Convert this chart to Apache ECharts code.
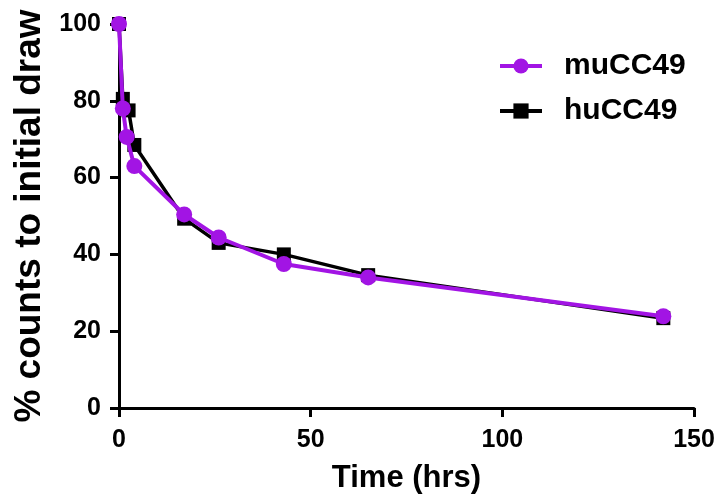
<!DOCTYPE html>
<html>
<head>
<meta charset="utf-8">
<script src="https://cdn.jsdelivr.net/npm/echarts@6/dist/echarts.min.js"></script>
<style>
  html, body { margin: 0; padding: 0; background: #fff; }
  #main { width: 723px; height: 502px; }
</style>
</head>
<body>
<div id="main"></div>
<script>
// time points (hrs) and % counts
var timeMu = [0, 1, 2, 4, 17, 26, 43, 65, 142];
var valMu  = [100, 78, 70.6, 63, 50.4, 44.4, 37.5, 34, 23.9];
var timeHu = [0, 1, 2.5, 4, 17, 26, 43, 65, 142];
var valHu  = [100, 80.5, 77.5, 68.5, 49.3, 43, 40, 34.6, 23.4];
var xTicks = [0, 50, 100, 150];
var yTicks = [0, 20, 40, 60, 80, 100];

var purple = '#a214e4';
var font = 'Liberation Sans, Arial, sans-serif';
var tickFont = { fontFamily: font, fontWeight: 'bold', fontSize: 25, color: '#000' };

function pairs(xs, ys) {
  var out = [];
  for (var i = 0; i < xs.length; i++) out.push([xs[i], ys[i]]);
  return out;
}

var chart = echarts.init(document.getElementById('main'));
chart.setOption({
  animation: false,
  backgroundColor: '#fff',
  grid: { left: 119, right: 29, top: 24, bottom: 94 },
  legend: {
    left: 493, top: 46, orient: 'vertical',
    itemWidth: 42, itemHeight: 19, itemGap: 15,
    lineStyle: { width: 4 },
    textStyle: { fontFamily: font, fontWeight: 'bold', fontSize: 30, color: '#000', padding: [0, 0, 0, 17] },
    data: ['muCC49', 'huCC49']
  },
  xAxis: {
    type: 'value', min: 0, max: 150, interval: 50,
    name: 'Time (hrs)', nameLocation: 'middle', nameGap: 55,
    nameTextStyle: { fontFamily: font, fontWeight: 'bold', fontSize: 31, color: '#000' },
    axisLine: { lineStyle: { color: '#000', width: 3 } },
    axisTick: { show: true, length: 9, lineStyle: { color: '#000', width: 3 } },
    axisLabel: Object.assign({ margin: 20, formatter: function (v) { return xTicks.indexOf(v) >= 0 ? v : ''; } }, tickFont),
    splitLine: { show: false }
  },
  yAxis: {
    type: 'value', min: 0, max: 100, interval: 20,
    name: '% counts to initial draw', nameLocation: 'middle', nameGap: 71,
    nameTextStyle: { fontFamily: font, fontWeight: 'bold', fontSize: 37, color: '#000' },
    axisLine: { show: true, lineStyle: { color: '#000', width: 3 } },
    axisTick: { show: true, length: 9, lineStyle: { color: '#000', width: 3 } },
    axisLabel: Object.assign({ margin: 18, formatter: function (v) { return yTicks.indexOf(v) >= 0 ? v : ''; } }, tickFont),
    splitLine: { show: false }
  },
  series: [
    {
      name: 'huCC49', type: 'line', data: pairs(timeHu, valHu),
      symbol: 'rect', symbolSize: 14,
      lineStyle: { color: '#000', width: 3.5 },
      itemStyle: { color: '#000' }, z: 2
    },
    {
      name: 'muCC49', type: 'line', data: pairs(timeMu, valMu),
      symbol: 'circle', symbolSize: 16,
      lineStyle: { color: purple, width: 4 },
      itemStyle: { color: purple }, z: 3
    }
  ]
});
</script>
</body>
</html>
